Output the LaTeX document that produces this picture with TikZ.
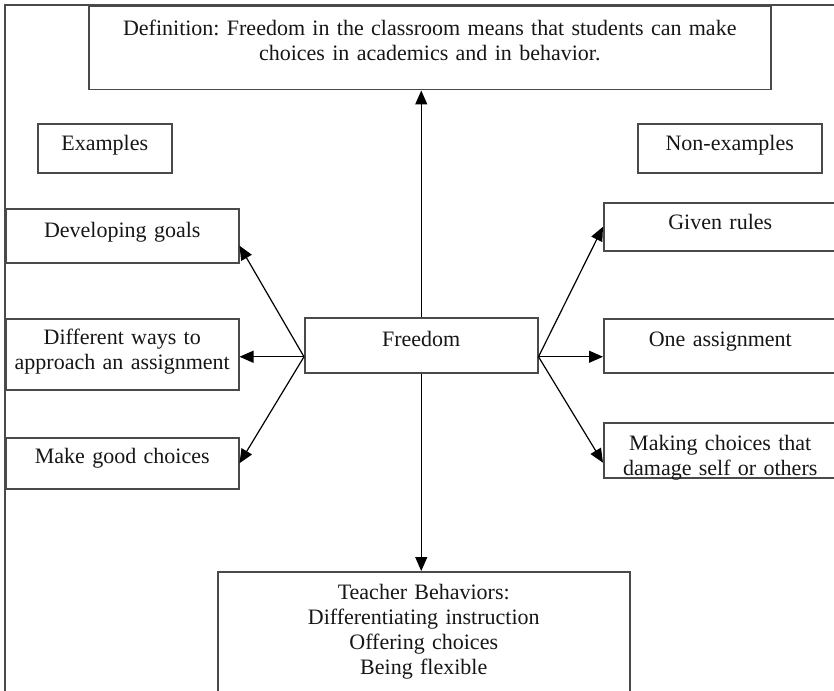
\documentclass[tikz,border=0pt]{standalone}
\usepackage{fontspec}
\setmainfont{Liberation Serif}
\usetikzlibrary{arrows.meta}
\definecolor{boxgray}{HTML}{4A4A4A}
\definecolor{txt}{HTML}{161616}
\frenchspacing
\begin{document}
\begin{tikzpicture}[x=1pt,y=-1pt,
  box/.style={draw=boxgray, line width=1.5pt, rectangle, inner sep=0pt,
    align=center, anchor=north west, text=txt,
    font=\fontsize{22}{25}\selectfont},
  sidebox/.style={box, text width=233pt},
  link/.style={draw=black, line width=1.2pt, -{Triangle[length=14pt,width=12pt]}},
  frame/.style={draw=boxgray, line width=1.6pt}]
\useasboundingbox (0,0) rectangle (834,690);
\clip (0,0) rectangle (834,690);

% page frame (top and left edges)
\draw[frame] (5,700) -- (5,5) -- (840,5);

% definition on top
\node[box, text width=682pt, text height=29pt, text depth=54pt] (def) at (88,6)
  {Definition: Freedom in the classroom means that students can make\\choices in academics and in behavior.};

% column headings
\node[box, text width=134pt, text height=27pt, text depth=22pt] (ex) at (37,123) {Examples};
\node[box, text width=184pt, text height=27pt, text depth=22pt] (nonex) at (637,123) {Non-examples};

% central concept
\node[box, text width=233pt, text height=29pt, text depth=26pt] (free) at (304,317) {Freedom};

% examples
\node[sidebox, text height=29pt, text depth=25pt] (dev) at (5,208) {Developing goals};
\node[sidebox, text height=26pt, text depth=45pt] (diff) at (5,318) {Different ways to\\approach an assignment};
\node[sidebox, text height=26pt, text depth=25pt] (good) at (5,437) {Make good choices};

% non-examples
\node[sidebox, text height=27pt, text depth=21pt] (rules) at (603,202) {Given rules};
\node[sidebox, text height=28pt, text depth=26pt] (one) at (603,318) {One assignment};
\node[sidebox, text height=28pt, text depth=27pt] (dmg) at (603,422) {Making choices that\\damage self or others};

% teacher behaviors
\node[box, text width=412pt, text height=28pt, text depth=111pt] (teach) at (217,571)
  {Teacher Behaviors:\\Differentiating instruction\\Offering choices\\Being flexible};

% connectors
\draw[link] (free.north) -- (free.north |- def.south);
\draw[link] (free.south) -- (free.south |- teach.north);
\draw[link] ([yshift=-11.5pt]free.west) -- ([yshift=-10pt]dev.east);
\draw[link] ([yshift=-11.5pt]free.west) -- ([yshift=-2.5pt]diff.east);
\draw[link] ([yshift=-11.5pt]free.west) -- (good.east);
\draw[link] ([yshift=-11.5pt]free.east) -- (rules.west);
\draw[link] ([yshift=-11.5pt]free.east) -- ([yshift=-11pt]one.west);
\draw[link] ([yshift=-11.5pt]free.east) -- ([yshift=-12.5pt]dmg.west);
\end{tikzpicture}
\end{document}
